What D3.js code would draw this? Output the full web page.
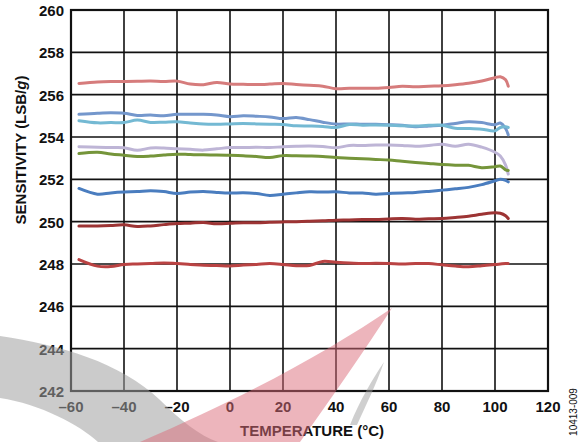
<!DOCTYPE html>
<html><head><meta charset="utf-8">
<script src="https://cdn.jsdelivr.net/npm/d3@7"></script>
<style>body{margin:0;background:#fff}svg{display:block}text{font-family:"Liberation Sans",Arial,sans-serif;fill:#111}</style>
</head><body><svg id="c" width="585" height="442"></svg>
<script>
const temps = [-57,-50,-45,-40,-35,-30,-25,-20,-15,-10,-5,0,5,10,15,20,25,30,35,40,45,50,55,60,65,70,75,80,85,90,95,100,102,104,105];
const pink = [256.53,256.6,256.62,256.62,256.63,256.64,256.62,256.64,256.5,256.47,256.58,256.5,256.49,256.48,256.5,256.53,256.48,256.44,256.4,256.28,256.3,256.3,256.3,256.34,256.4,256.37,256.4,256.42,256.47,256.54,256.65,256.8,256.85,256.7,256.4];
const blueMid = [255.07,255.12,255.14,255.12,255.02,255.04,255.0,255.07,255.07,255.07,255.04,254.96,255.0,254.98,254.95,254.87,254.92,254.82,254.7,254.61,254.62,254.6,254.6,254.58,254.55,254.48,254.52,254.56,254.64,254.72,254.68,254.58,254.66,254.4,254.1];
const cyan = [254.77,254.67,254.68,254.68,254.8,254.69,254.7,254.72,254.66,254.61,254.6,254.62,254.64,254.62,254.6,254.59,254.53,254.52,254.5,254.45,254.59,254.56,254.57,254.56,254.53,254.52,254.55,254.56,254.41,254.4,254.37,254.29,254.45,254.48,254.45];
const lavender = [253.54,253.52,253.5,253.49,253.37,253.48,253.48,253.44,253.42,253.38,253.44,253.5,253.5,253.52,253.5,253.54,253.56,253.57,253.55,253.49,253.6,253.6,253.62,253.62,253.6,253.56,253.6,253.66,253.56,253.66,253.52,253.28,253.1,252.67,252.25];
const green = [253.22,253.28,253.2,253.14,253.08,253.1,253.15,253.19,253.17,253.16,253.15,253.14,253.12,253.08,253.03,253.12,253.11,253.1,253.08,253.03,253.0,252.97,252.94,252.91,252.85,252.8,252.75,252.7,252.67,252.66,252.55,252.6,252.63,252.45,252.42];
const blueDark = [251.57,251.3,251.36,251.4,251.42,251.46,251.42,251.33,251.4,251.43,251.38,251.35,251.37,251.33,251.24,251.3,251.36,251.41,251.4,251.41,251.36,251.35,251.3,251.33,251.36,251.38,251.43,251.49,251.55,251.62,251.75,251.93,252.0,251.95,251.88];
const redDark = [249.79,249.8,249.82,249.85,249.77,249.8,249.86,249.91,249.93,249.96,249.9,249.92,249.95,249.95,249.97,249.99,250.0,250.02,250.04,250.07,250.08,250.1,250.1,250.13,250.15,250.12,250.14,250.15,250.2,250.26,250.35,250.42,250.4,250.28,250.15];
const red = [248.21,247.9,247.88,247.98,248.0,248.02,248.05,248.02,247.98,247.94,247.93,247.91,247.95,247.98,248.02,247.98,247.92,247.93,248.12,248.08,248.05,248.02,248.03,248.02,248.0,248.02,248.02,247.96,247.9,247.87,247.92,247.98,248.0,248.02,248.02];
const seriesNames = ["pink","blueMid","cyan","lavender","green","blueDark","redDark","red"];
const seriesValues = [pink,blueMid,cyan,lavender,green,blueDark,redDark,red];
const seriesColors = ["#d67c7c","#7497cc","#74b9d3","#beb5d6","#75953a","#4a7dbf","#9d3434","#ba4343"];
const xTicks = [-60,-40,-20,0,20,40,60,80,100,120];
const yTicks = [242,244,246,248,250,252,254,256,258,260];

const svg = d3.select("#c");
const L=71,R=548,T=10,B=391;
const x = d3.scaleLinear().domain([-60,120]).range([L,R]);
const y = d3.scaleLinear().domain([242,260]).range([B,T]);

// grid
svg.append("g").selectAll("line").data(xTicks).join("line")
  .attr("x1",d=>x(d)).attr("x2",d=>x(d)).attr("y1",T).attr("y2",B)
  .attr("stroke","#111").attr("stroke-width",1.6);
svg.append("g").selectAll("line").data(yTicks).join("line")
  .attr("x1",L).attr("x2",R).attr("y1",d=>y(d)).attr("y2",d=>y(d))
  .attr("stroke","#111").attr("stroke-width",1.6);
svg.append("rect").attr("x",L).attr("y",T).attr("width",R-L).attr("height",B-T)
  .attr("fill","none").attr("stroke","#111").attr("stroke-width",2.2);

// series
const line = d3.line().x((d,i)=>x(temps[i])).y(d=>y(d)).curve(d3.curveCatmullRom.alpha(0.5));
svg.append("g").selectAll("path").data(seriesValues).join("path")
  .attr("d",d=>line(d)).attr("fill","none")
  .attr("stroke",(d,i)=>seriesColors[i]).attr("stroke-width",3)
  .attr("stroke-linecap","round").attr("stroke-linejoin","round");

// tick labels
const fmt = d=> d<0 ? "\u2013"+Math.abs(d) : String(d);
svg.append("g").selectAll("text").data(yTicks).join("text")
  .attr("x",64).attr("y",d=>y(d)+6).attr("text-anchor","end")
  .style("font-weight","bold").attr("font-size",15).text(d=>d);
svg.append("g").selectAll("text").data(xTicks).join("text")
  .attr("x",d=>x(d)).attr("y",412).attr("text-anchor","middle")
  .style("font-weight","bold").attr("font-size",15).text(fmt);

// axis titles
svg.append("text").attr("x",312).attr("y",436).attr("text-anchor","middle")
  .style("font-weight","bold").attr("font-size",15).text("TEMPERATURE (°C)");
const yt = svg.append("text").attr("transform","translate(26,150) rotate(-90)")
  .attr("text-anchor","middle").style("font-weight","bold").attr("font-size",15);
yt.append("tspan").text("SENSITIVITY (LSB/");
yt.append("tspan").attr("font-style","italic").text("g");
yt.append("tspan").text(")");

svg.append("text").attr("transform","translate(577,412) rotate(-90)")
  .attr("text-anchor","middle").attr("font-size",10).style("font-weight","normal").text("10413-009");

// watermark (semi-transparent overlay)
const wm = svg.append("g");
wm.append("path").attr("d","M0,336 C60,345 120,362 160,400 C180,420 200,436 218,442 L98,442 C80,425 40,404 0,398 Z")
  .attr("fill","#a0a0a0").attr("opacity",0.55);
wm.append("path").attr("d","M392,308 C330,350 250,395 140,442 L300,442 C330,400 365,350 392,308 Z")
  .attr("fill","#dc6c7a").attr("opacity",0.5);
wm.append("path").attr("d","M384,362 C372,380 360,400 350,425 L357,425 C366,405 376,385 384,362 Z")
  .attr("fill","#a0a0a0").attr("opacity",0.5);
</script></body></html>
